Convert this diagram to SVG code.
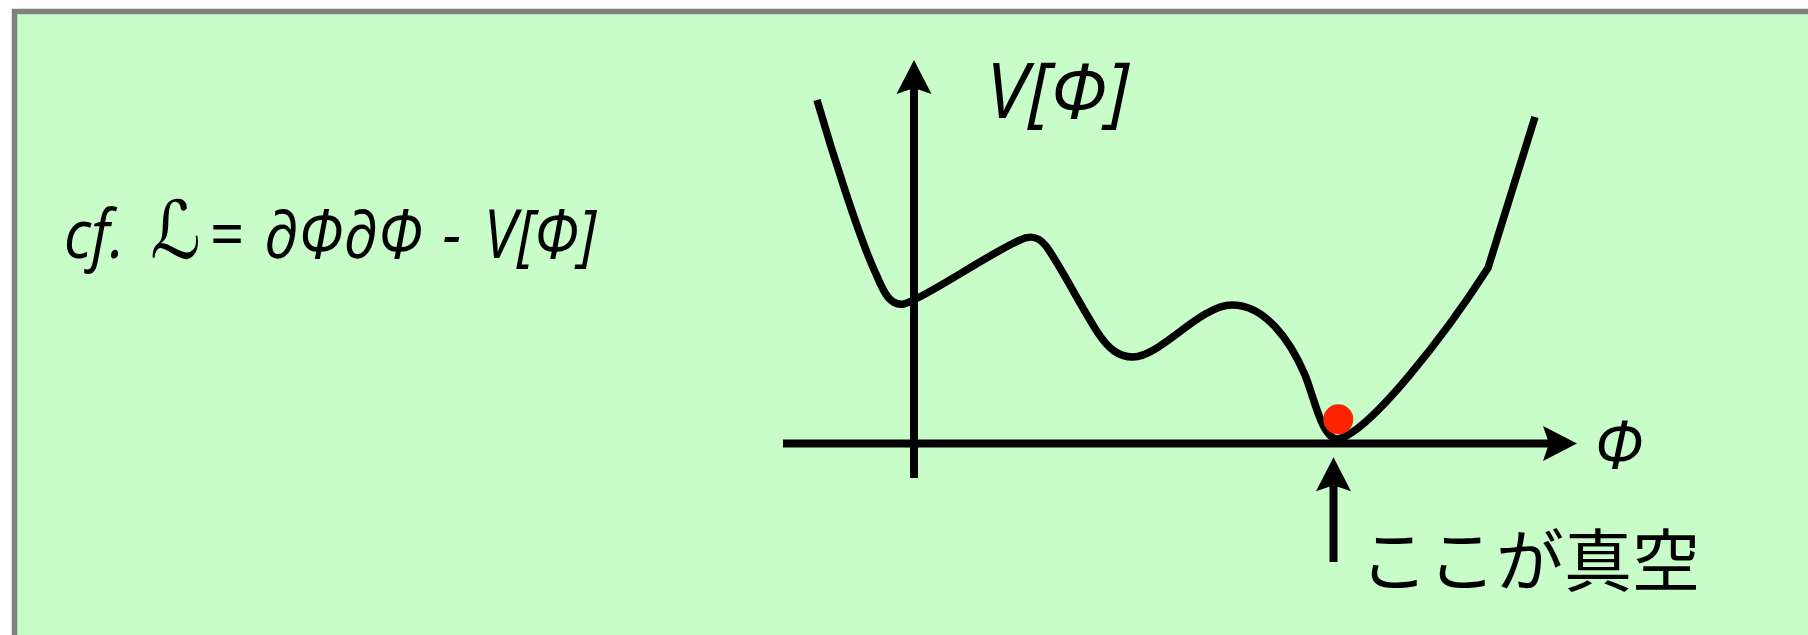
<svg xmlns="http://www.w3.org/2000/svg" width="1808" height="635" viewBox="0 0 1808 635">
  <style>
    .math { font-family: "Open Sans", "DejaVu Sans", sans-serif; font-style: italic; fill: #000; }
    .script { font-family: "DejaVu Serif", "DejaVu Sans", serif; font-style: normal; }
    .jp { font-family: "Noto Sans CJK JP", "Noto Sans CJK SC", sans-serif; fill: #000; }
    .axis { stroke: #000; stroke-width: 8; fill: none; }
    .curve { stroke: #000; stroke-width: 7.5; fill: none; stroke-linejoin: round; }
  </style>
  <defs>
    <marker id="ah" markerUnits="userSpaceOnUse" viewBox="-36 -19 38 38" refX="-28" refY="0" markerWidth="38" markerHeight="38" orient="auto" overflow="visible">
      <path d="M0,0 L-34,-17.5 L-28,0 L-34,17.5 Z" fill="#000"/>
    </marker>
  </defs>
  <rect width="1808" height="635" fill="#ffffff"/>
  <g id="frame">
    <rect x="14.5" y="11.5" width="1900" height="700" fill="#c8fcc8" stroke="#808080" stroke-width="5.5"/>
  </g>
  <g id="formula">
    <text class="math" font-size="68" transform="translate(64,258) scale(0.88,1)" y="0"><tspan x="0">cf.</tspan><tspan x="98" class="script" font-size="80">ℒ</tspan><tspan x="166" font-style="normal">=</tspan><tspan x="227">∂Φ∂Φ</tspan><tspan x="430">-</tspan><tspan x="477">V[Φ]</tspan></text>
  </g>
  <g id="connectors">
    <line id="v-axis" class="axis" x1="914" y1="478" x2="914" y2="88" marker-end="url(#ah)"/>
    <line id="phi-axis" class="axis" x1="783" y1="443.5" x2="1549" y2="443.5" marker-end="url(#ah)"/>
    <line id="vacuum-pointer" class="axis" stroke-width="7.5" x1="1333.5" y1="562" x2="1333.5" y2="485.3" marker-end="url(#ah)"/>
  </g>
  <g id="potential">
    <path class="curve" d="M817,100 C832,152 860,240 876,274 C884,293 890,306 904,304 C925,298 985,256 1020,240 C1030,235 1038,236 1046,246 C1060,265 1080,305 1098,333 C1108,348 1118,357 1133,357 C1160,357 1200,305 1232,305 C1265,305 1290,340 1305,375 C1315,400 1322,439 1338,439 C1370,432 1445,335 1488,268 L1535,117"/>
  </g>
  <g id="ball">
    <circle cx="1338.3" cy="419.3" r="15" fill="#ff2400"/>
  </g>
  <g id="label-v">
    <text class="math" font-size="76" x="986" y="118" textLength="143" lengthAdjust="spacingAndGlyphs">V[Φ]</text>
  </g>
  <g id="label-phi">
    <text class="math" font-size="66" x="1594" y="468">Φ</text>
  </g>
  <g id="label-vacuum">
    <text class="jp" font-size="68" x="1360" y="586">ここが真空</text>
  </g>
</svg>
